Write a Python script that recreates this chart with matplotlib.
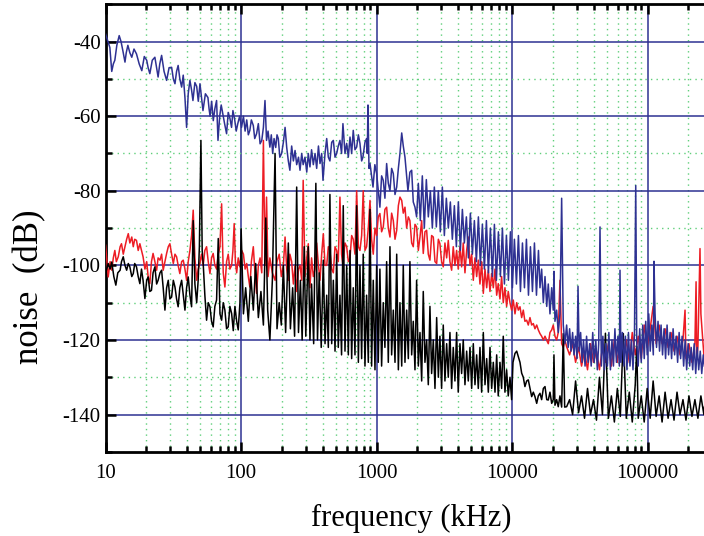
import numpy as np
import matplotlib
matplotlib.use("Agg")
import matplotlib.pyplot as plt
from matplotlib.ticker import LogLocator, MultipleLocator, FuncFormatter, NullFormatter

# blue trace (frequency in kHz, level in dB)
blue_f = [
    10, 10.4, 10.75, 11.1, 11.4, 11.7, 12.1, 12.6, 13.0, 13.4,
    13.9, 14.2, 14.6, 15.1, 15.6, 16.2, 16.9, 17.7, 18.5, 19.3,
    20.1, 20.6, 21.2, 22.1, 23.1, 23.8, 24.4, 25.1, 25.9, 27.0,
    28.2, 29.4, 30.7, 31.6, 32.5, 33.4, 34.3, 35.3, 36.4, 37.4,
    38.5, 39.6, 40.7, 41.9, 43.1, 44.1, 45.6, 47.0, 48.3, 49.7,
    51, 52.3, 54.5, 56.9, 58, 59, 60.6, 62.3, 64, 65.9,
    67.5, 69.5, 71.3, 73.2, 75.5, 78.1, 80.3, 82.6, 85, 87,
    89.7, 92, 94.5, 97.5, 100.7, 104, 107, 110, 113, 116,
    119, 123, 126, 130, 134, 138, 142, 146, 150, 154,
    158, 163, 167, 171, 175, 180, 184, 188, 193, 199,
    205, 211, 217, 223, 229, 236, 243, 250, 257, 265,
    272, 280, 287, 296, 305, 313, 322, 331, 341, 351,
    361, 372, 382, 393, 402, 416, 428, 440, 452, 466,
    479, 493, 507, 521, 536, 551, 564, 584, 601, 618,
    636, 654, 672, 692, 712, 733, 753, 775, 792, 820,
    843, 853, 863, 878, 893, 918, 940, 970, 1000, 1028,
    1057, 1088, 1119, 1151, 1185, 1219, 1254, 1290, 1327, 1366,
    1406, 1446, 1486, 1531, 1572, 1618, 1665, 1702, 1760, 1813,
    1863, 1918, 1972, 2030, 2100, 2173, 2248, 2326, 2406, 2490,
    2576, 2665, 2757, 2853, 2951, 3053, 3159, 3268, 3381, 3498,
    3619, 3745, 3874, 4008, 4147, 4291, 4439, 4593, 4752, 4916,
    5086, 5262, 5444, 5633, 5828, 6029, 6238, 6454, 6677, 6908,
    7147, 7394, 7650, 7915, 8189, 8472, 8765, 9069, 9382, 9707,
    10040, 10390, 10750, 11120, 11510, 11910, 12320, 12740, 13190, 13640,
    14110, 14600, 15110, 15630, 16040, 16500, 16980, 17470, 17990, 18470,
    19010, 19570, 20100, 20340, 20690, 21290, 21880, 22520, 23180, 23830,
    24500, 25230, 25900, 26540, 27200, 27920, 28600, 29370, 30100, 30610,
    31200, 32000, 32800, 33600, 34500, 35400, 36300, 37300, 38300, 39300,
    40300, 41400, 42500, 43500, 44480, 45500, 46700, 47900, 49100, 50400,
    51700, 53100, 54500, 55900, 57300, 58800, 60300, 61800, 62470, 63500,
    65100, 66800, 68500, 70300, 72100, 74000, 75900, 77900, 79900, 81620,
    83040, 85100, 87300, 89600, 91900, 94300, 96700, 99200, 101800, 104400,
    107200, 110000, 111300, 113300, 116200, 119200, 122300, 125500, 128700, 132100,
    135500, 139000, 142600, 146300, 150100, 154000, 158000, 162100, 166300, 170600,
    175000, 179500, 184200, 189000, 193900, 198900, 204100, 209400, 214800, 220400,
    226100, 232000, 238000, 244200, 250500, 257000, 262000]
blue_db = [
    -38.0, -40, -41.6, -48, -46, -45, -41, -38.4, -40, -42.4,
    -45.5, -43, -41, -43, -44.2, -42, -43.3, -46, -47.8, -44,
    -45, -47, -48.6, -45, -44.2, -47, -49.5, -46, -43.7, -48,
    -50.4, -47, -46.9, -50, -51.3, -48, -46.4, -50, -52.2, -49,
    -55, -63, -54, -50.4, -53, -55.8, -51, -52, -56, -51.3,
    -55, -58.5, -54, -55, -58, -60, -56, -61.2, -58, -55.8,
    -66.5, -60, -57, -59.3, -62, -64.7, -59, -60.5, -63, -58.5,
    -61, -64, -62, -60, -63, -60, -64, -61, -65, -63.8,
    -61, -62.5, -66, -64.7, -62, -67.4, -66.5, -63, -55.8, -66.5,
    -64, -68.3, -65, -70, -66, -68.4, -65, -66, -71, -70,
    -67, -63, -68.4, -72, -74.5, -68, -72, -69.2, -73, -71,
    -74.5, -70, -73, -71, -75, -70, -73.6, -69, -73, -70,
    -74, -68, -72.7, -70, -77.2, -70, -66, -71, -72, -67,
    -66.5, -71, -70, -68, -66.5, -70, -62, -70, -67.3, -71,
    -65.6, -70, -63.8, -69, -68.3, -65, -67.3, -72, -71, -67,
    -66, -70, -57, -74, -72.7, -76, -79, -73, -75.4, -80,
    -84.4, -76, -77.2, -82, -72.7, -78, -80, -74, -75.4, -81,
    -79, -74, -70, -64.5, -68, -71, -76, -80, -75, -74.5,
    -83, -84.4, -87, -78, -88, -76, -90, -77, -87, -80,
    -90, -79, -89.7, -80, -91, -79, -92, -82, -90, -83,
    -93, -84, -95, -83, -96, -85, -94, -87, -98, -86,
    -97, -88, -99, -87, -100, -89, -101, -88, -102, -90,
    -103, -89, -104, -91, -103, -90, -105, -92, -104, -91,
    -106, -93, -105, -92, -107, -94, -106, -93, -108, -95,
    -107, -94, -108, -96, -106, -101, -110, -103, -111, -105,
    -113, -106, -112, -101.6, -115, -112, -118, -113, -82, -116,
    -121, -116, -122, -117, -123, -118, -124, -119, -125, -105.6,
    -123, -118, -126, -120, -127, -119, -126, -121, -127, -118,
    -126, -120, -128, -121, -89.7, -127, -119, -128, -121, -127,
    -118, -128, -120, -127, -117, -126, -119, -127, -101.3, -126,
    -118, -127, -119, -128, -118, -127, -120, -128, -118, -78.6,
    -121, -127, -117, -126, -116, -125, -115, -124, -113, -123,
    -116, -124, -98.9, -112.9, -122, -115, -123, -116, -124, -117,
    -125, -116, -124, -118, -125, -117, -124, -119, -126, -118,
    -125, -119, -127, -120, -128, -121, -127, -122, -128, -121,
    -129, -122, -128, -123, -129, -124, -127]

# red trace
red_f = [
    10, 10.45, 10.8, 11.1, 11.4, 11.7, 12.0, 12.4, 12.8, 13.1,
    13.5, 13.9, 14.3, 14.7, 15.1, 15.6, 16.0, 16.4, 16.9, 17.4,
    17.9, 18.4, 18.9, 19.5, 20.1, 20.6, 21.2, 21.8, 22.4, 23.1,
    23.8, 24.4, 25.2, 25.9, 26.6, 27.4, 28.2, 29.0, 29.8, 30.7,
    31.6, 32.5, 33.4, 34.3, 35.3, 36.4, 37.4, 38.5, 39.6, 40.7,
    41.9, 43.1, 44.3, 45.6, 47.0, 48.2, 49.6, 51, 52.5, 54,
    55.6, 57.2, 58.9, 60.5, 62.2, 64, 65.9, 67.8, 69.8, 71.8,
    73.8, 75.9, 78.1, 80.3, 82.6, 85.1, 87, 88.9, 90.7, 92.7,
    95.2, 98.0, 101, 104, 107, 110, 113, 116, 119, 123,
    126, 130, 134, 138, 142, 146, 150, 154, 158, 163,
    170, 178, 184, 191, 198, 205, 211, 217, 223, 229,
    236, 243, 250, 257, 265, 272, 280, 287, 296, 305,
    313, 322, 331, 341, 351, 361, 372, 382, 393, 404,
    416, 428, 440, 452, 466, 479, 493, 507, 521, 536,
    551, 564, 584, 601, 618, 636, 654, 672, 692, 712,
    733, 753, 775, 796, 820, 843, 868, 893, 918, 944,
    972, 1000, 1028, 1057, 1088, 1119, 1151, 1185, 1219, 1254,
    1290, 1327, 1366, 1406, 1446, 1486, 1531, 1572, 1618, 1665,
    1713, 1760, 1813, 1863, 1918, 1972, 2030, 2088, 2149, 2208,
    2272, 2338, 2405, 2473, 2545, 2618, 2694, 2772, 2853, 2930,
    3015, 3101, 3191, 3285, 3377, 3474, 3575, 3675, 3782, 3891,
    4000, 4118, 4237, 4355, 4484, 4615, 4744, 4883, 5025, 5166,
    5316, 5470, 5623, 5786, 5954, 6124, 6302, 6485, 6668, 6861,
    7060, 7258, 7469, 7686, 7893, 8128, 8360, 8596, 8846, 9101,
    9355, 9633, 9908, 10190, 10490, 10800, 11100, 11420, 11750, 12080,
    12420, 12790, 13150, 13530, 13930, 14320, 14730, 15170, 15590, 16040,
    16500, 16980, 17470, 17990, 18470, 19010, 19570, 20100, 20690, 21290,
    21880, 22520, 23180, 23830, 24500, 25230, 26540, 27920, 29370, 30900,
    32500, 34190, 35970, 37840, 39810, 41880, 44060, 46350, 48760, 51290,
    53960, 56770, 59720, 62820, 66090, 69520, 73140, 76940, 80940, 85150,
    89580, 94240, 99140, 104300, 109700, 115400, 121400, 127700, 134400, 141400,
    148700, 156400, 164600, 173100, 182100, 188600, 191600, 201600, 212100, 223100,
    227500, 230100, 234700, 243200, 246900, 259700, 262000]
red_db = [
    -94.6, -103.1, -99, -101.3, -98, -96, -99, -97.7, -95, -94.2,
    -97, -95, -93, -91.5, -94, -92.4, -95, -93, -93.3, -96,
    -94.2, -96, -97.7, -101, -99, -103, -104.9, -99, -96.8, -99,
    -101.3, -98, -98.6, -97, -101.3, -99, -96.8, -95, -94.2, -97,
    -99.5, -97, -97.7, -100, -102.2, -99, -98.6, -101, -104, -99,
    -96, -92, -85.2, -98, -104, -101, -99.5, -97, -100, -96,
    -95, -99, -102.2, -98, -96.8, -100, -101, -97, -95, -83.5,
    -102, -105.8, -99, -97, -101, -100, -96, -88.8, -99, -102,
    -98, -100.4, -96, -97, -101, -99.5, -103, -105.8, -99, -95,
    -101, -107.5, -100, -98, -102, -66.5, -100, -81.7, -103, -98,
    -102, -104, -99, -97, -103, -100, -92.4, -101, -104, -97,
    -99, -105, -100, -107, -101, -100, -104, -77.2, -103, -98,
    -94.2, -106, -98, -103, -101, -94, -100, -104, -97, -91.5,
    -100, -100, -95, -96, -101, -102, -95, -96, -99, -81.7,
    -97, -100, -94, -95, -99, -98, -92, -93, -97, -80,
    -95, -96, -92, -80, -96, -95, -90, -82.6, -93, -97,
    -90, -92, -87, -86.1, -91, -89.7, -85, -84.4, -90, -92.4,
    -86, -88, -93, -90.6, -84, -81.7, -82.6, -86, -84.4, -90,
    -87, -88, -94, -95, -89, -89.7, -96, -92.4, -88, -96.8,
    -91, -90.6, -97, -98.6, -92, -92.4, -99, -99.5, -93, -94.2,
    -99, -100.4, -94, -98, -93.3, -99, -101.3, -95, -100, -96,
    -101, -95, -100.4, -94, -102, -96, -92.4, -100, -97, -104,
    -98, -103, -98.6, -105, -99, -107.5, -101, -106, -101.3, -107,
    -102.2, -106, -101, -108, -104.9, -109, -103, -110, -106, -111,
    -107, -110, -112, -109.3, -113, -110, -112, -111.1, -114, -112,
    -115, -114.7, -116, -114, -116, -115.6, -117, -116, -117.3, -118.3,
    -119, -120, -119, -120.1, -121, -118, -117.3, -116, -119, -120,
    -118, -104, -121, -122, -120, -121.8, -124, -121, -126, -122,
    -127, -123, -128, -121, -126, -123, -128, -122, -126, -121,
    -127, -120, -126, -119, -125, -120, -126, -118, -124, -119,
    -125, -116, -122, -117, -111, -121, -116, -121, -117, -122,
    -118, -123, -119, -124, -120, -112, -125, -121, -126, -121,
    -104.4, -125, -122, -95.5, -113, -124, -122]

# black trace
black_f = [
    10, 10.45, 10.8, 11.1, 11.5, 11.9, 12.3, 12.8, 13.1, 13.5,
    13.9, 14.3, 14.7, 15.1, 15.6, 16.0, 16.4, 16.9, 17.4, 17.9,
    18.4, 18.9, 19.5, 20.1, 20.6, 21.2, 21.8, 22.4, 23.1, 23.8,
    24.4, 25.2, 25.9, 26.6, 27.4, 28.2, 29.0, 29.8, 30.7, 31.6,
    32.5, 33.4, 34.3, 35.3, 36.4, 37.4, 38.5, 39.6, 40.7, 41.9,
    43.1, 44.3, 45.6, 47.0, 48.2, 49.2, 50.5, 51.6, 52.5, 54,
    55.6, 57.2, 58.9, 60.5, 62.2, 64, 65.9, 67.8, 69.8, 71.8,
    73.8, 75.9, 78.1, 80.3, 82.6, 85.1, 87.5, 90, 92.7, 95.2,
    98, 100, 104, 108, 113, 118, 123, 128, 134, 140,
    146, 152, 157, 163, 170, 178, 184, 191, 198, 205,
    213, 223, 231, 240, 248, 257, 265, 274, 282, 292,
    300, 313, 322, 331, 343, 356, 366, 377, 390, 404,
    416, 428, 440, 452, 466, 479, 493, 507, 521, 536,
    551, 567, 584, 601, 618, 636, 654, 672, 692, 712,
    733, 753, 775, 796, 820, 843, 868, 893, 918, 944,
    972, 1000, 1028, 1057, 1088, 1119, 1151, 1185, 1219, 1254,
    1290, 1327, 1366, 1406, 1446, 1486, 1531, 1572, 1618, 1665,
    1713, 1760, 1813, 1863, 1918, 1972, 2030, 2088, 2149, 2208,
    2272, 2338, 2405, 2473, 2545, 2618, 2694, 2772, 2853, 2930,
    3015, 3101, 3191, 3285, 3377, 3474, 3575, 3675, 3782, 3891,
    4000, 4118, 4237, 4355, 4484, 4615, 4744, 4883, 5025, 5166,
    5316, 5470, 5623, 5786, 5954, 6124, 6302, 6485, 6668, 6861,
    7060, 7258, 7469, 7686, 7893, 8128, 8360, 8596, 8846, 9101,
    9355, 9633, 9908, 10140, 10490, 10800, 11100, 11420, 11750, 12080,
    12420, 12790, 13150, 13530, 13930, 14320, 14730, 15170, 15590, 16040,
    16500, 16980, 17470, 17990, 18470, 19010, 19570, 20100, 20340, 20690,
    21290, 21880, 22520, 23180, 23830, 24400, 25230, 26540, 27920, 29370,
    30900, 32500, 34190, 35970, 37840, 39810, 41880, 44060, 46350, 48760,
    51290, 53960, 56770, 59720, 62820, 66090, 69520, 73140, 76940, 80940,
    83040, 85150, 89580, 94240, 99140, 104300, 109700, 115400, 121400, 127700,
    134400, 141400, 148700, 156400, 164600, 173100, 182100, 191600, 201600, 212100,
    223100, 234700, 246900, 259700, 262000]
black_db = [
    -102.2, -99.5, -101, -99.1, -103, -105.3, -102, -101.3, -99, -97.7,
    -100, -101.3, -99.5, -100.4, -103, -102.2, -99.5, -100.4, -103, -104.9,
    -101, -104, -108.9, -104, -103.1, -107, -106.7, -102, -100.4, -105,
    -104, -102, -101.3, -106, -112, -106, -104, -109, -108.5, -104,
    -105.8, -109, -111.1, -106, -104, -108, -112, -106, -103.1, -108,
    -111.1, -88, -105, -110, -104, -95, -66.5, -96, -99.5, -108,
    -114.7, -110, -111.1, -115, -116.5, -111, -109.3, -92.8, -113, -114.7,
    -110, -112, -117, -116.5, -111, -112.9, -117.5, -111, -115, -117.3,
    -110, -90.2, -113, -106, -115, -103, -112, -99.5, -114, -107,
    -116, -87.3, -112, -120, -104, -70, -117, -110, -116, -100,
    -118, -94, -117, -106, -119, -79, -118, -104, -120, -95,
    -119, -95, -120, -105, -121, -78, -120, -102, -122, -98.6,
    -121, -108, -122, -81, -121, -104, -123, -97, -122, -108,
    -124, -84, -123, -100, -124, -96, -125, -106, -124, -84,
    -126, -100, -125, -97, -127, -108, -126, -85, -127, -104,
    -128, -100, -126, -101, -127, -110, -122, -99, -126, -95,
    -124, -112, -126, -97, -128, -110, -127, -100, -126, -112,
    -125, -99, -124, -115, -128, -104, -127, -118, -131, -107,
    -126, -120, -132, -111, -129, -120, -133, -114, -130, -119,
    -133, -116, -131, -121, -130, -118, -133, -122, -131, -118,
    -134, -121, -129, -120, -132, -123, -131, -122, -133, -121,
    -132, -124, -133, -122, -134, -118, -132, -125, -134, -122,
    -133, -126, -134, -124, -135, -126, -133, -119, -134, -128,
    -135, -130, -136, -126, -123.6, -123, -124.5, -126, -128.9, -130,
    -132.5, -131, -130.7, -133, -135.2, -134, -135.2, -137, -135, -134.3,
    -136, -133, -132.5, -136, -136.1, -134, -137, -136, -124, -137.5,
    -136, -137.9, -135, -138, -118.3, -138, -137.9, -136, -140, -131,
    -139.5, -135, -141, -133, -140, -136, -141.5, -130, -140, -118.2,
    -141, -135, -142, -133, -140.5, -118.3, -141, -134, -142, -132,
    -121.8, -141, -135, -142, -133, -141, -131, -140.5, -135, -142,
    -134, -141, -136, -141.5, -134, -140, -136, -141.5, -135, -140.5,
    -136, -141, -135, -140, -138]

x_ticks = [10, 100, 1000, 10000, 100000]
y_ticks = [-40, -60, -80, -100, -120, -140]

plt.rcParams["font.family"] = ["Liberation Serif", "DejaVu Serif"]
plt.rcParams["axes.unicode_minus"] = False

fig = plt.figure(figsize=(7.04, 5.36), dpi=100)
# axes runs a bit past the right edge of the picture (cropped original)
ax = fig.add_axes([0.150, 0.157, 0.867, 0.835])

ax.plot(red_f, red_db, color="#ed1c24", lw=1.1, zorder=3)
ax.plot(black_f, black_db, color="black", lw=1.1, zorder=4)
ax.plot(blue_f, blue_db, color="#2e3192", lw=1.1, zorder=5)

ax.set_xscale("log")
ax.set_xlim(10, 319000)
ax.set_ylim(-150, -30)

ax.set_xticks(x_ticks)
ax.xaxis.set_major_formatter(FuncFormatter(lambda v, p: "%d" % int(round(v))))
ax.xaxis.set_minor_locator(LogLocator(base=10, subs=np.arange(2, 10)))
ax.xaxis.set_minor_formatter(NullFormatter())
ax.set_yticks(y_ticks)
ax.yaxis.set_minor_locator(MultipleLocator(10))

ax.set_axisbelow(True)
ax.grid(which="major", color="#2e3192", lw=1.1)
ax.grid(which="minor", color="#5fcf7a", lw=1.0, ls=(0, (1, 3)))

ax.tick_params(which="both", direction="in", top=True, right=False, labelsize=15, width=1.8)
ax.tick_params(which="major", length=7)
ax.tick_params(which="minor", length=4)
for s in ["left", "bottom", "top"]:
    ax.spines[s].set_linewidth(2)
ax.spines["right"].set_visible(False)
ax.xaxis.set_tick_params(pad=9)

fig.text(411 / 704, 1 - 518 / 536, "frequency (kHz)", ha="center", va="center", fontsize=22)
fig.text(30 / 704, 1 - 287 / 536, "noise  (dB)", ha="center", va="center", rotation=90, fontsize=25)

fig.savefig("out.png", dpi=100)
